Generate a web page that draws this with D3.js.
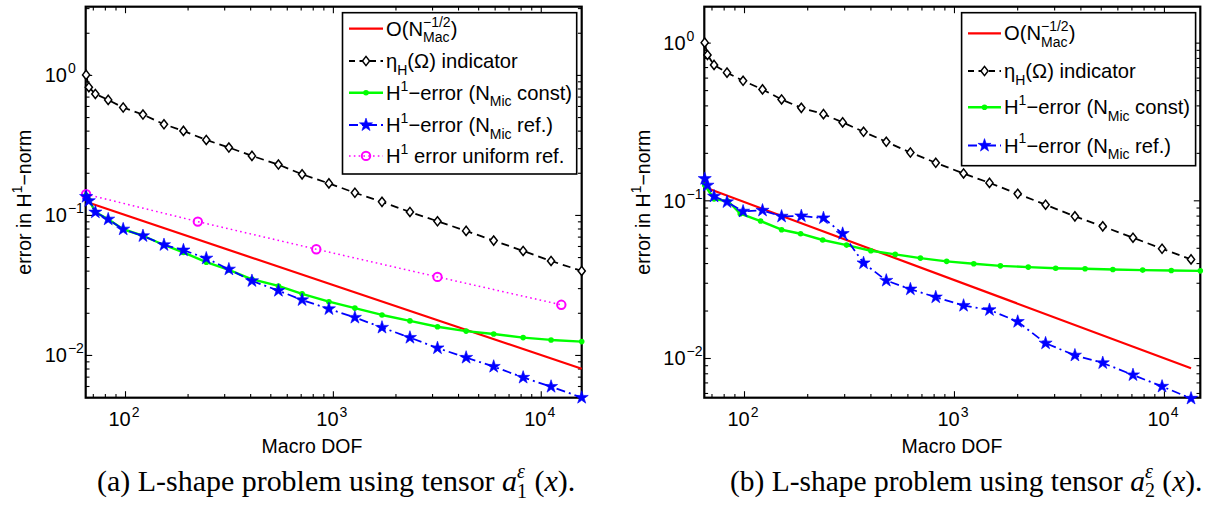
<!DOCTYPE html>
<html><head><meta charset="utf-8">
<script src="https://cdn.jsdelivr.net/npm/d3@7"></script>
<style>
body{margin:0;background:#fff}
svg{display:block}
text{font-family:"Liberation Sans",Arial,Helvetica,sans-serif;fill:#000;white-space:pre}
</style>
</head><body>
<svg id="c" width="1206" height="507"></svg>
<script>
// ---------------- DATA ----------------
// Panel (a)
const dofA   = [65, 67, 72, 83, 98, 122, 154, 191, 246, 316, 408, 547, 711, 957, 1276, 1723, 2348, 3186, 4375, 5937, 8228, 11210, 15740];
const etaA   = [1.0, 0.817, 0.731, 0.663, 0.585, 0.521, 0.444, 0.398, 0.343, 0.303, 0.264, 0.229, 0.195, 0.168, 0.144, 0.124, 0.105, 0.0901, 0.0769, 0.0656, 0.0553, 0.0469, 0.0398];
const constA = [0.138, 0.128, 0.105, 0.093, 0.079, 0.071, 0.061, 0.054, 0.046, 0.0405, 0.0347, 0.0311, 0.0273, 0.024, 0.0216, 0.0193, 0.0175, 0.0159, 0.0148, 0.0141, 0.0133, 0.0128, 0.01245];
const refA   = [0.135, 0.126, 0.1045, 0.0931, 0.079, 0.0708, 0.0611, 0.056, 0.049, 0.0409, 0.0338, 0.0288, 0.0247, 0.0213, 0.0185, 0.0157, 0.0133, 0.0112, 0.00958, 0.00826, 0.0069, 0.00594, 0.00496];
const uniDofA = [65, 224, 832, 3186, 12560];
const uniA    = [0.1405, 0.0896, 0.0569, 0.0361, 0.0228];
const rateDofA = [67, 15740];
const rateA    = [0.122, 0.00797];

// Panel (b)
const dofB   = [65, 67, 72, 83, 99, 122.5, 151, 187.5, 239, 295, 371, 476, 620, 819, 1111, 1476, 2012, 2731, 3767, 5112, 7122, 9795, 13460];
const etaB   = [1.0, 0.835, 0.722, 0.645, 0.573, 0.505, 0.436, 0.386, 0.352, 0.312, 0.272, 0.235, 0.201, 0.173, 0.148, 0.129, 0.110, 0.0938, 0.0791, 0.0684, 0.0579, 0.0493, 0.0422];
const refB   = [0.137, 0.1245, 0.106, 0.0976, 0.0851, 0.0863, 0.0791, 0.0795, 0.0772, 0.0614, 0.040, 0.031, 0.0273, 0.0243, 0.0215, 0.0202, 0.017, 0.0124, 0.0104, 0.0093, 0.0078, 0.0066, 0.00554];
const constDofB = [65, 72, 84, 96, 120, 151, 186, 237, 308, 402, 525, 692, 923, 1242, 1664, 2259, 3051, 4210, 5710, 7920, 10840, 14900];
const constB    = [0.125, 0.102, 0.0986, 0.0823, 0.0739, 0.0651, 0.0614, 0.056, 0.052, 0.0479, 0.0454, 0.043, 0.041, 0.0396, 0.0384, 0.0377, 0.0371, 0.0368, 0.0364, 0.0361, 0.0359, 0.0357];
const rateDofB = [65, 13460];
const rateB    = [0.121, 0.00862];

// Axis ranges & tick labels
const xDomA = [64.7, 15740], yDomA = [0.00495, 3.07];
const xDomB = [64.7, 14900], yDomB = [0.0056, 1.69];
const xMajor = [100, 1000, 10000];
const xMajorExp = ["2", "3", "4"];
const yMajor = [1, 0.1, 0.01];
const yMajorExp = ["0", "\u22121", "\u22122"];

const xLabel = "Macro DOF";
const captionA = "(a) L-shape problem using tensor ";
const captionB = "(b) L-shape problem using tensor ";

// ---------------- DRAWING ----------------
const svg = d3.select("#c");

// rich text: segments {s, it} | {sup} | {sub} | {sup, sub}
function rich(g, x, y, segs, size, family, smallRatio, subRatio) {
  let cx = x;
  const small = Math.round(size * (smallRatio || 0.7));
  const subOff = size * (subRatio || 0.33);
  const mk = (xx, yy, fsz, txt) => {
    const t = g.append("text").attr("x", xx).attr("y", yy)
      .style("font-size", fsz + "px").text(txt);
    if (family) t.style("font-family", family);
    return t;
  };
  for (const seg of segs) {
    if (seg.s !== undefined) {
      const t = mk(cx, y, size, seg.s);
      if (seg.it) t.style("font-style", "italic");
      cx += t.node().getComputedTextLength();
    } else {
      let w = 0;
      if (seg.sup !== undefined) {
        const t = mk(cx + (seg.supDx || 0), y - size * 0.45, small, seg.sup);
        if (seg.it) t.style("font-style", "italic");
        w = Math.max(w, t.node().getComputedTextLength() + (seg.supDx || 0));
      }
      if (seg.sub !== undefined) {
        const t = mk(cx, y + subOff, small, seg.sub);
        w = Math.max(w, t.node().getComputedTextLength());
      }
      cx += w;
    }
  }
  return cx - x;
}

function starPath(r) { return d3.symbol().type(d3.symbolStar).size(r * r / 0.8908130915292852)(); }
const diamondPath = "M0,-4.6L3.6,0L0,4.6L-3.6,0Z";

function marker(g, kind, x, y) {
  if (kind === "diamond") {
    g.append("path").attr("d", diamondPath).attr("transform", `translate(${x},${y})`)
      .attr("fill", "#fff").attr("stroke", "#000").attr("stroke-width", 1.5);
  } else if (kind === "dot") {
    g.append("circle").attr("cx", x).attr("cy", y).attr("r", 2.8).attr("fill", "#00ff00");
  } else if (kind === "star") {
    g.append("path").attr("d", starPath(6.9)).attr("transform", `translate(${x},${y})`)
      .attr("fill", "#0000ff").attr("stroke", "#0000ff").attr("stroke-width", 0.6);
  } else if (kind === "circle") {
    g.append("circle").attr("cx", x).attr("cy", y).attr("r", 4.2)
      .attr("fill", "none").attr("stroke", "#ff00ff").attr("stroke-width", 2);
  }
}

const styles = {
  rate:  {stroke: "#ff0000", width: 2.2, dash: null, mk: null},
  eta:   {stroke: "#000000", width: 1.8, dash: "8,5", mk: "diamond"},
  cnst:  {stroke: "#00ff00", width: 2.4, dash: null, mk: "dot"},
  ref:   {stroke: "#0000ff", width: 1.8, dash: "9,4,2,4", mk: "star"},
  uni:   {stroke: "#ff00ff", width: 1.5, dash: "1.6,3.2", mk: "circle"}
};

function panel(cfg) {
  const {L, R, T, B} = cfg;
  const x = d3.scaleLog().domain(cfg.xDom).range([L, R]);
  const y = d3.scaleLog().domain(cfg.yDom).range([B, T]);
  const g = svg.append("g");

  // minor tick values
  const xMinor = [], yMinor = [];
  for (let d = 10; d <= 1e5; d *= 10) for (let k = 2; k <= 9; k++) {
    const v = d * k; if (v > cfg.xDom[0] && v < cfg.xDom[1]) xMinor.push(v);
  }
  for (let d = 0.001; d <= 10; d *= 10) for (let k = 2; k <= 9; k++) {
    const v = +(d * k).toPrecision(6); if (v > cfg.yDom[0] && v < cfg.yDom[1]) yMinor.push(v);
  }
  const axes = [
    [d3.axisBottom(x), `translate(0,${B})`, xMajor, xMinor],
    [d3.axisTop(x), `translate(0,${T})`, xMajor, xMinor],
    [d3.axisLeft(y), `translate(${L},0)`, yMajor, yMinor],
    [d3.axisRight(y), `translate(${R},0)`, yMajor, yMinor]
  ];
  for (const [ax, tr, maj, min] of axes) {
    const a1 = g.append("g").attr("transform", tr)
      .call(ax.tickValues(maj).tickSize(-6.5).tickFormat(""));
    const a2 = g.append("g").attr("transform", tr)
      .call(ax.tickValues(min).tickSize(-3.8).tickFormat(""));
    for (const a of [a1, a2]) {
      a.select(".domain").remove();
      a.selectAll("line").attr("stroke", "#000").attr("stroke-width", 1.1);
    }
  }
  g.append("rect").attr("x", L).attr("y", T).attr("width", R - L).attr("height", B - T)
    .attr("fill", "none").attr("stroke", "#000").attr("stroke-width", 2.2);

  // tick labels
  xMajor.forEach((v, i) => {
    if (v < cfg.xDom[0] || v > cfg.xDom[1]) return;
    const lg = g.append("g");
    const w = rich(lg, 0, 426, [{s: "10"}, {sup: xMajorExp[i], supDx: 1}], 20, null, 0.68);
    lg.attr("transform", `translate(${x(v) - w / 2 - 1},0)`);
  });
  yMajor.forEach((v, i) => {
    rich(g, L - 41, y(v) + 7.2, [{s: "10"}, {sup: yMajorExp[i], supDx: 1}], 20, null, 0.68);
  });

  // axis labels
  g.append("text").attr("x", cfg.xLabelX).attr("y", 453)
    .attr("text-anchor", "middle").style("font-size", "19.5px").text(xLabel);
  const yg = g.append("g");
  const yw = rich(yg, 0, 0, [{s: "error in H"}, {sup: "1"}, {s: "\u2212norm"}], 19.5);
  yg.attr("transform", `translate(${cfg.yLabelX},${(T + B) / 2}) rotate(-90) translate(${-yw / 2},0)`);

  // series
  const line = d3.line().x(d => x(d[0])).y(d => y(d[1]));
  const dg = g.append("g");
  for (const s of cfg.series) {
    const st = styles[s.style];
    const pts = s.xs.map((v, i) => [v, s.ys[i]]);
    const p = dg.append("path").attr("d", line(pts)).attr("fill", "none")
      .attr("stroke", st.stroke).attr("stroke-width", st.width)
      .attr("stroke-linejoin", "round");
    if (st.dash) p.attr("stroke-dasharray", st.dash);
    if (st.mk) pts.forEach(d => marker(dg, st.mk, x(d[0]), y(d[1])));
  }

  // legend
  const lgd = cfg.legend;
  const lgG = g.append("g");
  lgG.append("rect").attr("x", lgd.x).attr("y", lgd.y).attr("width", lgd.w).attr("height", lgd.h)
    .attr("fill", "#fff").attr("stroke", "#000").attr("stroke-width", 1.6);
  lgd.rows.forEach((r, i) => {
    const st = styles[r.style];
    const ry = lgd.rowY[i];
    const l = lgG.append("line").attr("x1", lgd.sx0).attr("x2", lgd.sx1).attr("y1", ry).attr("y2", ry)
      .attr("stroke", st.stroke).attr("stroke-width", st.width);
    if (st.dash) l.attr("stroke-dasharray", r.style === "eta" ? "6,4.5" : st.dash);
    if (st.mk) marker(lgG, st.mk, (lgd.sx0 + lgd.sx1) / 2, ry);
    rich(lgG, lgd.tx, ry + 7, r.segs, 20.2);
  });

  // caption: serif text, font size fitted to the reference width
  const capSegs = [{s: cfg.caption}, {s: "a", it: true}, {sup: "\u03b5", sub: cfg.capSub, it: true}, {s: " ("}, {s: "x", it: true}, {s: ")."}];
  const serif = "'Liberation Serif','DejaVu Serif',serif";
  const tmp = svg.append("g");
  const w0 = rich(tmp, 0, 0, capSegs, 20, serif, 0.68, 0.22);
  tmp.remove();
  const fs = 20 * cfg.capW / w0;
  rich(g, cfg.capX, 491, capSegs, fs, serif, 0.68, 0.22);
}

const legRowsA = [
  {style: "rate", segs: [{s: "O(N"}, {sup: "\u22121/2", sub: "Mac"}, {s: ")"}]},
  {style: "eta", segs: [{s: "\u03b7"}, {sub: "H"}, {s: "(\u03a9) indicator"}]},
  {style: "cnst", segs: [{s: "H"}, {sup: "1"}, {s: "\u2212error (N"}, {sub: "Mic"}, {s: " const)"}]},
  {style: "ref", segs: [{s: "H"}, {sup: "1"}, {s: "\u2212error (N"}, {sub: "Mic"}, {s: " ref.)"}]},
  {style: "uni", segs: [{s: "H"}, {sup: "1"}, {s: " error uniform ref."}]}
];

panel({
  L: 85.7, R: 581.7, T: 6.7, B: 397.7, xDom: xDomA, yDom: yDomA,
  xLabelX: 312, yLabelX: 31,
  series: [
    {style: "rate", xs: rateDofA, ys: rateA},
    {style: "uni", xs: uniDofA, ys: uniA},
    {style: "eta", xs: dofA, ys: etaA},
    {style: "cnst", xs: dofA, ys: constA},
    {style: "ref", xs: dofA, ys: refA}
  ],
  legend: {x: 342.5, y: 12.7, w: 234.2, h: 161.3, rowY: [28.6, 61, 92.7, 125, 155.9],
           sx0: 349, sx1: 383, tx: 386, rows: legRowsA},
  caption: captionA, capSub: "1", capX: 97, capW: 479
});

panel({
  L: 704.3, R: 1200.3, T: 6.7, B: 397.7, xDom: xDomB, yDom: yDomB,
  xLabelX: 952, yLabelX: 649.5,
  series: [
    {style: "rate", xs: rateDofB, ys: rateB},
    {style: "eta", xs: dofB, ys: etaB},
    {style: "cnst", xs: constDofB, ys: constB},
    {style: "ref", xs: dofB, ys: refB}
  ],
  legend: {x: 961.6, y: 12.7, w: 234, h: 153, rowY: [33.3, 71, 107.3, 145.5],
           sx0: 968, sx1: 1001, tx: 1004, rows: legRowsA.slice(0, 4)},
  caption: captionB, capSub: "2", capX: 730, capW: 473
});
</script>
</body></html>
